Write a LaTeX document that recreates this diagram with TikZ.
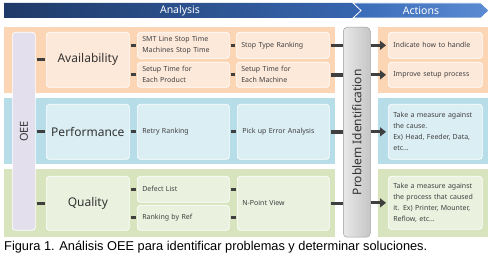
\documentclass[tikz,border=0pt]{standalone}
\usepackage{fontspec}
\setmainfont{Noto Sans}
\newfontfamily\capfont{Liberation Sans}
\usetikzlibrary{arrows.meta}
\definecolor{bandO}{HTML}{FCD5B5}
\definecolor{boxO}{HTML}{FDE9DA}
\definecolor{bandB}{HTML}{B7DDE8}
\definecolor{boxB}{HTML}{DBEEF4}
\definecolor{bandG}{HTML}{D7E4BD}
\definecolor{boxG}{HTML}{EBF1DF}
\definecolor{lav}{HTML}{E4DFEC}
\definecolor{conncol}{HTML}{3F3F3F}
\definecolor{txt}{HTML}{404040}
\definecolor{bigtxt}{HTML}{333333}
\definecolor{navyA}{HTML}{1F3A68}
\definecolor{navyB}{HTML}{3766B0}
\definecolor{actA}{HTML}{3A6BB8}
\definecolor{actB}{HTML}{5B8BD2}
\definecolor{pidL}{HTML}{E8E8E8}
\definecolor{pidR}{HTML}{C6C6C6}
\begin{document}
\begin{tikzpicture}[x=1pt,y=-1pt,
  band/.style={draw=none, inner sep=0pt, anchor=north west},
  bx/.style={rounded corners=3pt, draw=white, line width=0.7pt, inner sep=0pt, anchor=north west, text=txt},
  big/.style={bx, font=\fontsize{12}{14}\selectfont, text=bigtxt},
  sm/.style={bx, font=\fontsize{7}{11}\selectfont, align=left, inner xsep=5pt},
  conn/.style={draw=conncol, line width=3pt},
  arr/.style={draw=conncol, line width=3pt, shorten >=2pt, -{Triangle[width=9pt,length=6pt]}},
  hdrtxt/.style={text=white, font=\fontsize{10.5}{12}\selectfont, inner sep=0pt},
]
\useasboundingbox (0,0) rectangle (500,256);
% header
\path[left color=navyA, right color=navyB] (4,3) -- (353,3) -- (361,10.5) -- (353,18) -- (4,18) -- cycle;
\path[left color=actA, right color=actB, draw=white, line width=0.8pt] (353,3) -- (481,3) -- (489,10.5) -- (481,18) -- (353,18) -- (361,10.5) -- cycle;
\node[hdrtxt] (hA) at (180,10.5) {Analysis};
\node[hdrtxt] (hB) at (421,10.5) {Actions};
% bands
\node[band, fill=bandO, minimum width=331pt, minimum height=66pt] (b1) at (4,27) {};
\node[band, fill=bandB, minimum width=331pt, minimum height=66pt] (b2) at (4,98) {};
\node[band, fill=bandG, minimum width=331pt, minimum height=68pt] (b3) at (4,169) {};
\node[band, fill=bandO, minimum width=110pt, minimum height=66pt] (r1) at (378,27) {};
\node[band, fill=bandB, minimum width=110pt, minimum height=66pt] (r2) at (378,98) {};
\node[band, fill=bandG, minimum width=110pt, minimum height=68pt] (r3) at (378,169) {};
% OEE
\node[bx, fill=lav, minimum width=23pt, minimum height=198pt] (oee) at (12,32) {};
\node[rotate=90, font=\fontsize{11}{13}\selectfont, text=bigtxt] (oeet) at (oee.center) {OEE};
% problem identification
\node[rounded corners=4pt, draw=pidR!80!black, line width=0.5pt, left color=pidL, right color=pidR, inner sep=0pt, anchor=north west, minimum width=27pt, minimum height=210pt] (pid) at (343,27) {};
\node[rotate=90, font=\fontsize{12}{14}\selectfont, text=bigtxt] (pidt) at (pid.center) {Problem Identification};
% row 1
\node[big, fill=boxO, minimum width=83pt, minimum height=55pt] (avail) at (46,32) {Availability};
\node[sm, fill=boxO, text width=82pt, minimum height=26pt] (smt) at (137,32) {SMT Line Stop Time\\Machines Stop Time};
\node[sm, fill=boxO, text width=82pt, minimum height=25pt] (setp) at (137,62) {Setup Time for\\Each Product};
\node[sm, fill=boxO, text width=83pt, minimum height=26pt] (stop) at (236,32) {Stop Type Ranking};
\node[sm, fill=boxO, text width=83pt, minimum height=25pt] (setm) at (236,62) {Setup Time for\\Each Machine};
\node[sm, fill=boxO, text width=84pt, minimum height=26pt] (ind) at (388,32) {Indicate how to handle};
\node[sm, fill=boxO, text width=84pt, minimum height=25pt] (imp) at (388,62) {Improve setup process};
% row 2
\node[big, fill=boxB, minimum width=83pt, minimum height=55pt] (perf) at (46,104) {Performance};
\node[sm, fill=boxB, text width=82pt, minimum height=55pt] (retry) at (137,104) {Retry Ranking};
\node[sm, fill=boxB, text width=82pt, minimum height=55pt] (pick) at (237,104) {Pick up Error Analysis};
\node[sm, fill=boxB, text width=84pt, minimum height=55pt] (cause) at (388,104) {Take a measure against\\the cause.\\Ex) Head, Feeder, Data,\\etc...};
% row 3
\node[big, fill=boxG, minimum width=83pt, minimum height=54pt] (qual) at (46,176) {Quality};
\node[sm, fill=boxG, text width=82pt, minimum height=26pt] (defect) at (137,176) {Defect List};
\node[sm, fill=boxG, text width=82pt, minimum height=25pt] (rank) at (137,205) {Ranking by Ref};
\node[sm, fill=boxG, text width=82pt, minimum height=54pt] (npoint) at (237,176) {N-Point View};
\node[sm, fill=boxG, text width=84pt, minimum height=53pt] (proc) at (388,176) {Take a measure against\\the process that caused\\it. Ex) Printer, Mounter,\\Reflow, etc...};
% connectors
\draw[conn, shorten <=1pt, shorten >=1pt] (avail.west -| oee.east) -- (avail.west);
\draw[conn, shorten <=1pt, shorten >=1pt] (perf.west -| oee.east) -- (perf.west);
\draw[conn, shorten <=1pt, shorten >=1pt] (qual.west -| oee.east) -- (qual.west);
\draw[conn, shorten <=1pt, shorten >=1pt] (smt.west -| avail.east) -- (smt.west);
\draw[conn, shorten <=1pt, shorten >=1pt] (setp.west -| avail.east) -- (setp.west);
\draw[conn, shorten <=1pt, shorten >=1pt] (smt.east) -- (stop.west);
\draw[conn, shorten <=1pt, shorten >=1pt] (setp.east) -- (setm.west);
\draw[conn, shorten <=1pt, shorten >=1pt] (perf.east) -- (retry.west);
\draw[conn, shorten <=1pt, shorten >=1pt] (retry.east) -- (pick.west);
\draw[conn, shorten <=1pt, shorten >=1pt] (defect.west -| qual.east) -- (defect.west);
\draw[conn, shorten <=1pt, shorten >=1pt] (rank.west -| qual.east) -- (rank.west);
\draw[conn, shorten <=1pt, shorten >=1pt] (defect.east) -- (defect.east -| npoint.west);
\draw[conn, shorten <=1pt, shorten >=1pt] (rank.east) -- (rank.east -| npoint.west);
\draw[conn, line width=3.5pt, shorten <=1pt] (stop.east) -- (stop.east -| pid.west);
\draw[conn, line width=3.5pt, shorten <=1pt] (setm.east) -- (setm.east -| pid.west);
\draw[conn, line width=3.5pt, shorten <=1pt] (pick.east) -- (pick.east -| pid.west);
\draw[conn, line width=3.5pt, shorten <=1pt] (npoint.east) -- (npoint.east -| pid.west);
\draw[arr] (ind.west -| pid.east) -- (ind.west);
\draw[arr] (imp.west -| pid.east) -- (imp.west);
\draw[arr] (cause.west -| pid.east) -- (cause.west);
\draw[arr] (proc.west -| pid.east) -- (proc.west);
% caption
\node[anchor=base west, inner sep=0pt, font=\capfont\fontsize{12.8}{14}\selectfont] (cap) at (4,251) {Figura 1. Análisis OEE para identificar problemas y determinar soluciones.};
\end{tikzpicture}
\end{document}
